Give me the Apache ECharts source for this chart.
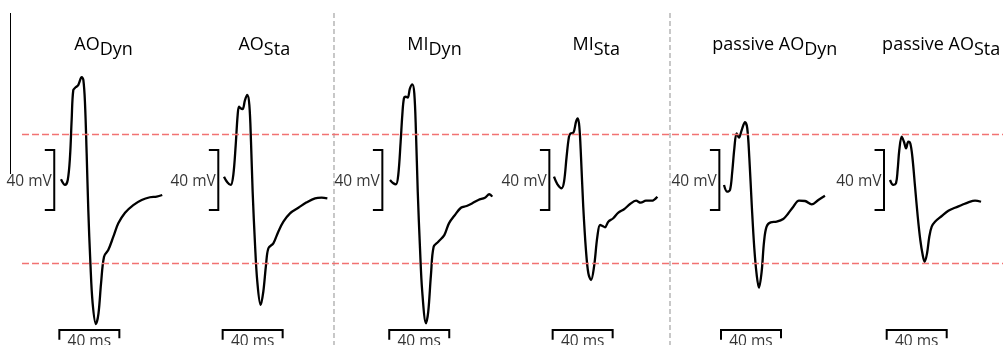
<!DOCTYPE html>
<html><head><meta charset="utf-8">
<script src="https://cdn.jsdelivr.net/npm/echarts@6/dist/echarts.min.js"></script>
<style>html,body{margin:0;padding:0;background:#fff}#c{width:1003px;height:345px}</style>
</head><body><div id="c"></div>
<script>
// ---- data (time in ms from trace start, voltage in mV) ----
const panelTitles = [['AO','Dyn'],['AO','Sta'],['MI','Dyn'],['MI','Sta'],['passive AO','Dyn'],['passive AO','Sta']];
const aoDyn = [[0,0.5],[2.7,-3.3],[4.5,0],[6,15.5],[7.1,40],[8.2,60],[9.8,61.8],[11.5,63.3],[13.8,68.5],[14.9,66.7],[16,51.1],[17.1,17.8],[18.2,-20],[19.6,-55.5],[21.1,-82.2],[23.3,-96],[25,-88.9],[26.7,-68.9],[28.7,-51.1],[31.5,-46.7],[34.9,-37.8],[38.2,-28.9],[42.7,-21.8],[48.2,-16.7],[53.8,-13.3],[59.3,-11.5],[63.8,-11.1],[67.5,-10]];
const aoSta = [[0,2.2],[2.2,-1.5],[4.5,-3.3],[6.2,3.3],[7.8,23.3],[9.1,43.3],[10,48.9],[11.1,47.8],[12.4,47.3],[14,53.3],[15.5,56.7],[16.9,50],[18,25.5],[19.1,-7.8],[20.7,-43.3],[22.2,-67.8],[24.4,-83.3],[26.2,-74.5],[28,-56.7],[29.6,-45.5],[32.9,-42.2],[36.2,-34.5],[39.6,-27.8],[44,-22.2],[49.6,-18.5],[55.1,-14.9],[60.7,-12.2],[65.1,-11.8],[68.9,-12.2]];
const miDyn = [[0,0],[2.2,-2.2],[4,-2.9],[5.5,3.3],[7.1,25.5],[8.2,43.3],[9.3,54.5],[10.5,55.5],[11.8,54.9],[13.3,61.1],[14.9,63.8],[16.2,57.8],[17.3,32.2],[18.5,-7.8],[20,-45.5],[21.5,-74.5],[24,-95.5],[25.5,-87.8],[27.3,-63.3],[29.1,-44.5],[32.2,-41.1],[36.2,-36.7],[39.3,-28.9],[43.3,-23.3],[47.3,-18.5],[51.1,-17.3],[54.9,-15.5],[58.9,-13.3],[63.3,-11.8],[66.2,-9.5],[68.2,-11.1]];
const miSta = [[0,2.2],[2.2,-2.7],[5.1,-5.5],[6.7,-1.1],[8.4,15.5],[10,28.9],[11.1,31.1],[12.9,31.5],[14.7,38.9],[15.8,41.1],[16.9,35.5],[18,15.5],[19.5,-17.8],[21.3,-46.7],[22.9,-62.2],[24.7,-66.7],[26.7,-57.8],[28.9,-37.8],[30.7,-30],[32.4,-30.7],[34,-31.5],[36.2,-27.8],[39.5,-25.5],[42.9,-21.8],[46.7,-19.5],[50.7,-16],[54.7,-13.8],[57.8,-15.1],[61.3,-13.8],[65.1,-13.8],[68.9,-11.1]];
const passiveAoDyn = [[0,-3.3],[2.2,-7.8],[4,-6.7],[5.5,5.5],[6.9,21.1],[8.4,31.1],[10,28.2],[11.8,33.3],[14,38.5],[15.5,34.5],[16.9,14.5],[18.5,-16.7],[20.2,-45.5],[21.8,-63.3],[23.3,-71.8],[25.1,-61.1],[26.7,-41.1],[28.4,-31.1],[31.1,-28.2],[35.1,-27.8],[39.5,-26],[42.9,-22.2],[46.2,-17.8],[50,-13.8],[54,-14],[58.5,-16.2],[62.9,-13.3],[67.3,-10.5]];
const passiveAoSta = [[0,0],[2.2,-3.3],[4,-2.2],[5.1,6.7],[6.2,20],[7.8,28.9],[9.3,25.5],[10.7,21.1],[12.2,25.5],[13.5,24.5],[14.9,15.5],[16.7,-4.5],[18.5,-24.5],[20.2,-40],[21.8,-50],[23.1,-54.5],[24.7,-48.9],[26.2,-37.8],[27.8,-31.1],[30,-27.8],[34.5,-24],[38.9,-20.5],[43.3,-18.5],[47.8,-16.7],[52.2,-14.9],[56.7,-13.8],[60.7,-14.5]];
const refLevels = [30.5, -55.5];   // mV, red dashed reference lines
const scaleBarMv = 40;             // mV
const scaleBarMs = 40;             // ms

// ---- layout ----
const traces = [aoDyn, aoSta, miDyn, miSta, passiveAoDyn, passiveAoSta];
const traceStartPx = [61, 224, 390, 554, 724, 890];
const titleCenterPx = [103.5, 264.3, 434.5, 596.2, 774.8, 941.2];
const mvBarAt = [-4.5, -3.8, -5.1, -3.1, -3.1, -4];
const msBarAt = [-1.1, -0.9, -0.5, -0.9, -2, -2.2];
const PX = 1.5, X_MIN = -15, X_MAX = 75, Y_MIN = -110, Y_MAX = 120;
const FONT = 'Open Sans';

const grid = [{left: 22, right: 0, top: 0, height: 345}];
const xAxis = [{gridIndex: 0, type: 'value', min: 0, max: 1, show: false}];
const yAxis = [{gridIndex: 0, type: 'value', min: Y_MIN, max: Y_MAX, show: false}];
const series = [{
  type: 'line', xAxisIndex: 0, yAxisIndex: 0, data: [[0, 0]], symbol: 'none', z: 1, silent: true,
  lineStyle: {opacity: 0},
  markLine: {silent: true, symbol: 'none', label: {show: false},
    lineStyle: {color: '#f27272', type: [7, 3], width: 1.3},
    data: refLevels.map(v => ({yAxis: v}))}
}];
const blackLine = {color: '#000', width: 2, join: 'miter'};
traces.forEach((tr, i) => {
  const gi = i + 1;
  grid.push({left: traceStartPx[i] + X_MIN * PX, width: (X_MAX - X_MIN) * PX, top: 0, height: 345});
  xAxis.push({gridIndex: gi, type: 'value', min: X_MIN, max: X_MAX, show: false});
  yAxis.push({gridIndex: gi, type: 'value', min: Y_MIN, max: Y_MAX, show: false});
  const ax = {xAxisIndex: gi, yAxisIndex: gi};
  series.push(Object.assign({type: 'line', data: tr, symbol: 'none', smooth: 0.35, clip: false, z: 3,
    lineStyle: {color: '#000', width: 2.3}}, ax));
  const bx = mvBarAt[i], h = scaleBarMv / 2, tick = 6.3;
  series.push(Object.assign({type: 'line', symbol: 'none', clip: false, lineStyle: blackLine,
    data: [[bx - tick, h], [bx, h], [bx, -h], [bx - tick, -h]]}, ax));
  const s = msBarAt[i];
  series.push(Object.assign({type: 'line', symbol: 'none', clip: false, lineStyle: blackLine,
    data: [[s, -106.5], [s, -100], [s + scaleBarMs, -100], [s + scaleBarMs, -105.5]]}, ax));
  series.push(Object.assign({type: 'scatter', symbolSize: 1, itemStyle: {color: 'transparent'}, clip: false,
    data: [[bx, -1]],
    label: {show: true, position: 'left', distance: 2, formatter: scaleBarMv + ' mV', color: '#000', fontSize: 15.5, fontFamily: FONT}}, ax));
  series.push(Object.assign({type: 'scatter', symbolSize: 1, itemStyle: {color: 'transparent'}, clip: false,
    data: [[s + scaleBarMs / 2, -100]],
    label: {show: true, position: 'bottom', distance: 3, formatter: scaleBarMs + ' ms', color: '#000', fontSize: 15.5, fontFamily: FONT}}, ax));
});

const graphic = [
  {type: 'line', shape: {x1: 10.5, y1: 13, x2: 10.5, y2: 174}, style: {stroke: '#000', lineWidth: 1}},
  {type: 'line', shape: {x1: 334, y1: 13, x2: 334, y2: 345}, style: {stroke: '#a3a3a3', lineWidth: 1.2, lineDash: [5, 3]}},
  {type: 'line', shape: {x1: 670, y1: 13, x2: 670, y2: 345}, style: {stroke: '#a3a3a3', lineWidth: 1.2, lineDash: [5, 3]}}
];
panelTitles.forEach((t, i) => {
  graphic.push({type: 'text', x: titleCenterPx[i], y: 34, style: {
    text: '{a|' + t[0] + '}{s|' + t[1] + '}', align: 'center', verticalAlign: 'top', fill: '#000',
    rich: {a: {fontSize: 18, fontFamily: FONT, lineHeight: 22, fill: '#000'},
           s: {fontSize: 18, fontFamily: FONT, lineHeight: 22, padding: [9, 0, 0, 0], fill: '#000'}}}});
});

const chart = echarts.init(document.getElementById('c'), null, {renderer: 'canvas'});
chart.setOption({animation: false, backgroundColor: '#fff', grid, xAxis, yAxis, series, graphic});
</script></body></html>
